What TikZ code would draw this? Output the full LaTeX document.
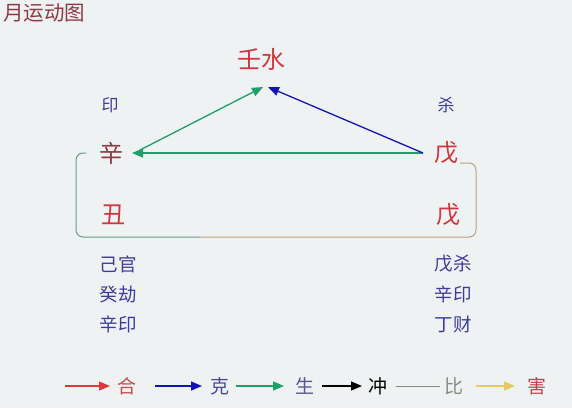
\documentclass[tikz,border=0pt]{standalone}
\usepackage{fontspec}
\setmainfont{Noto Sans CJK SC}
\usetikzlibrary{arrows.meta}
\definecolor{bg}{HTML}{EFF2F2}
\definecolor{tred}{HTML}{D0343F}
\definecolor{tdred}{HTML}{8E3A44}
\definecolor{tblue}{HTML}{3C3C9C}
\definecolor{agreen}{HTML}{1E9E6A}
\definecolor{ablue}{HTML}{1414B4}
\definecolor{ared}{HTML}{E03838}
\definecolor{ayellow}{HTML}{E2CC60}
\definecolor{agray}{HTML}{8A8A80}
\definecolor{bleft}{HTML}{6E9A88}
\definecolor{bright}{HTML}{B8A282}
\begin{document}
\begin{tikzpicture}[x=1pt,y=-1pt,
  big/.style={font=\fontsize{24}{24}\selectfont,inner sep=0pt},
  small/.style={font=\fontsize{17}{17}\selectfont,inner sep=0pt,text=tblue},
  info/.style={font=\fontsize{18.5}{18.5}\selectfont,inner sep=0pt,text=tblue},
  leg/.style={font=\fontsize{19}{19}\selectfont,inner sep=0pt},
  tip/.style={-{Triangle[length=11pt,width=9pt]},line width=1.3pt}]
\fill[bg] (0,0) rectangle (572,408);
\useasboundingbox (0,0) rectangle (572,408);
\node[anchor=west,font=\fontsize{20.5}{20.5}\selectfont,text=tdred,inner sep=0pt] (title) at (3,13) {月运动图};
\node[big,text=tred] (rs) at (261,59) {壬水};
\node[small] (yin) at (110,105) {印};
\node[small] (sha) at (446,105) {杀};
\node[big,text=tdred] (xin) at (111,153) {辛};
\node[big,text=tred] (wu1) at (446,153) {戊};
\node[big,text=tred] (chou) at (113,215) {丑};
\node[big,text=tred] (wu2) at (448,215) {戊};
\node[info] (l1) at (118,264) {己官};
\node[info] (l2) at (118,294) {癸劫};
\node[info] (l3) at (118,324) {辛印};
\node[info] (r1) at (453,264) {戊杀};
\node[info] (r2) at (453,294) {辛印};
\node[info] (r3) at (453,324) {丁财};
\coordinate (wtip) at (423,153);
\coordinate (xtip) at (132,153);
\coordinate (xs) at (140,150);
\coordinate (gtip) at (263,87);
\coordinate (btip) at (268,87);
\draw[tip,agreen] (wtip) -- (xtip);
\draw[tip,agreen] (xs) -- (gtip);
\draw[tip,ablue] (wtip) -- (btip);
% bracket
\coordinate (b1) at (86,153);
\coordinate (b2) at (460,163);
\draw[bleft,line width=1pt,rounded corners=7pt] (b1) -- (76,153) -- (76,237) -- (200,237);
\draw[bright,line width=1pt,rounded corners=7pt] (200,237) -- (476,237) -- (476,163) -- (b2);
% legend
\coordinate (l1a) at (65,386); \coordinate (l1b) at (110,386);
\coordinate (l2a) at (155,386); \coordinate (l2b) at (202,386);
\coordinate (l3a) at (236,386); \coordinate (l3b) at (284,386);
\coordinate (l4a) at (322,386); \coordinate (l4b) at (362,386);
\coordinate (l5a) at (396,386); \coordinate (l5b) at (440,386);
\coordinate (l6a) at (476,386); \coordinate (l6b) at (515,386);
\draw[tip,ared] (l1a) -- (l1b);
\node[leg,text=ared!70!gray] (g1) at (127,386) {合};
\draw[tip,ablue] (l2a) -- (l2b);
\node[leg,text=tblue!80!gray] (g2) at (220,386) {克};
\draw[tip,agreen] (l3a) -- (l3b);
\node[leg,text=tblue!60!gray] (g3) at (305,386) {生};
\draw[tip,black] (l4a) -- (l4b);
\node[leg,text=black] (g4) at (378,386) {冲};
\draw[agray,line width=1pt] (l5a) -- (l5b);
\node[leg,text=agray] (g5) at (454,386) {比};
\draw[tip,ayellow] (l6a) -- (l6b);
\node[leg,text=tred!80!gray] (g6) at (537,386) {害};
\end{tikzpicture}
\end{document}
